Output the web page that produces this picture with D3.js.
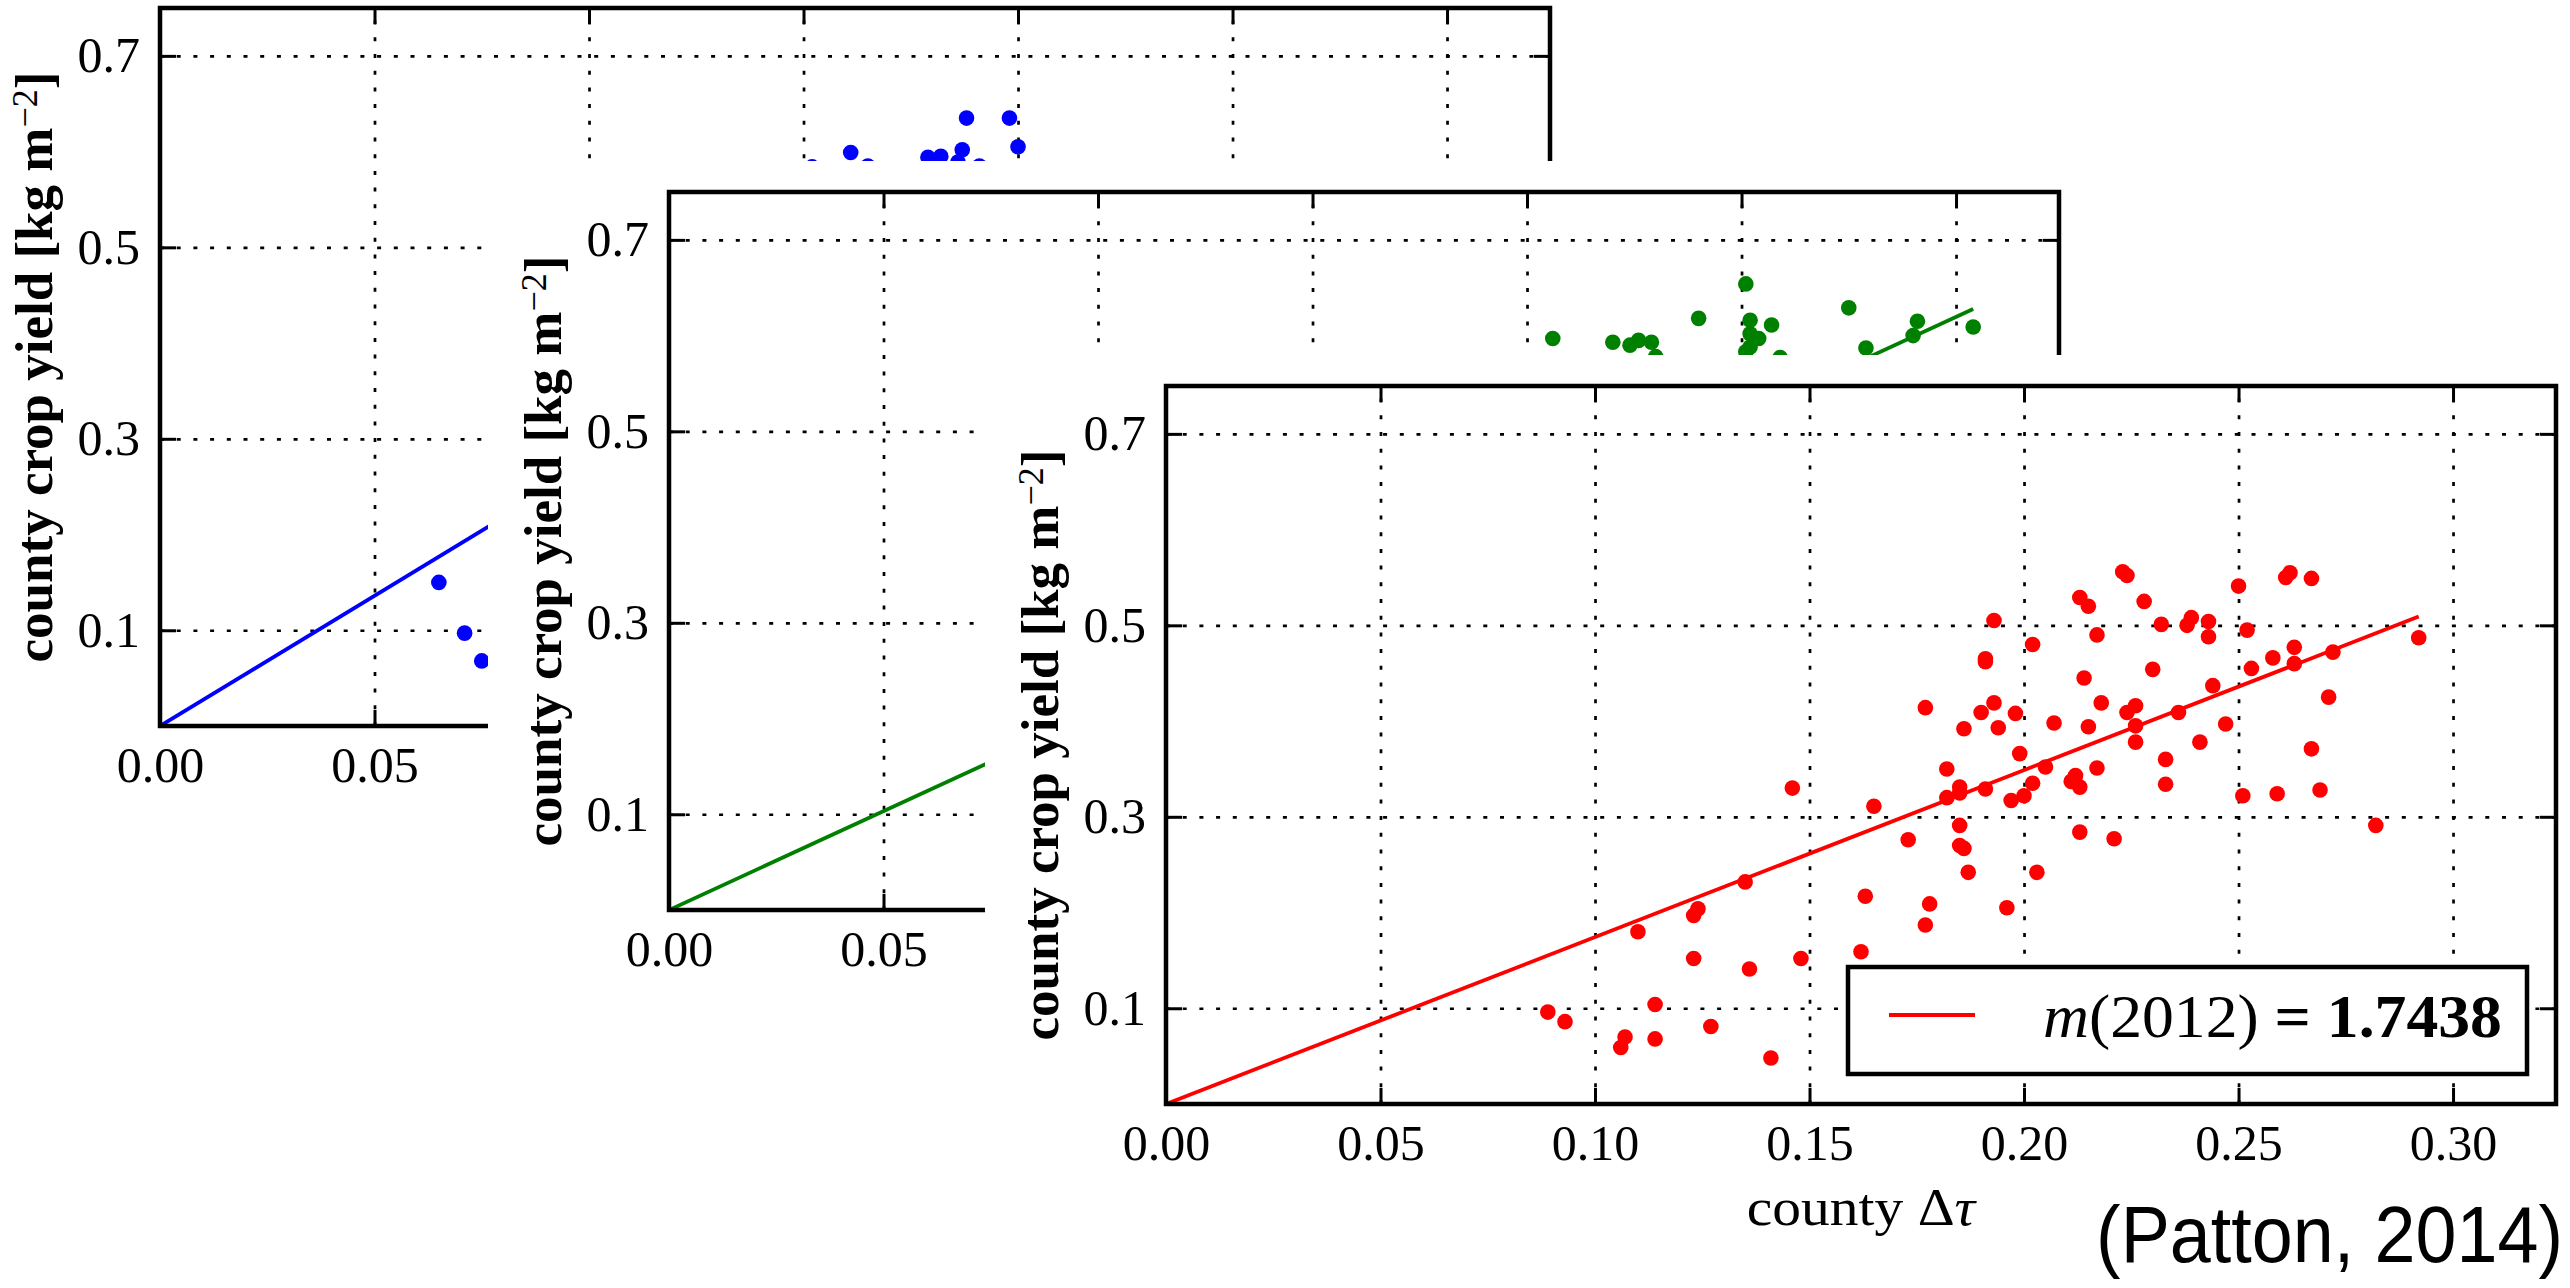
<!DOCTYPE html>
<html>
<head>
<meta charset="utf-8">
<script src="https://cdn.jsdelivr.net/npm/d3@7"></script>
<style>
  html, body { margin: 0; padding: 0; background: #fff; }
  svg { display: block; }
</style>
</head>
<body>
<svg id="chart" width="2570" height="1288"></svg>
<script>
// County crop yield against county Δτ: three seasons drawn as stacked,
// overlapping panels (blue at the back, green in the middle, red in front).

const xTicks = [0.00, 0.05, 0.10, 0.15, 0.20, 0.25, 0.30];
const yTicks = [0.1, 0.3, 0.5, 0.7];
const xDomain = [0, 0.324];
const yDomain = [0, 0.75];

// back panel (blue)
const blueX = [0.065, 0.071, 0.075, 0.152, 0.161, 0.165, 0.179, 0.182, 0.186, 0.187, 0.188, 0.191, 0.198, 0.200];
const blueY = [0.150, 0.097, 0.068, 0.584, 0.599, 0.585, 0.594, 0.595, 0.589, 0.602, 0.635, 0.585, 0.635, 0.605];

// middle panel (green)
const greenX = [0.188, 0.206, 0.220, 0.224, 0.226, 0.229, 0.230, 0.240, 0.251, 0.252, 0.257, 0.252, 0.254, 0.252, 0.251, 0.259, 0.275, 0.279, 0.291, 0.290, 0.304];
const greenY = [0.571, 0.597, 0.593, 0.590, 0.595, 0.593, 0.578, 0.618, 0.654, 0.616, 0.611, 0.602, 0.597, 0.588, 0.583, 0.577, 0.629, 0.587, 0.615, 0.600, 0.609];

// front panel (red, 2012)
const redX = [
  0.177, 0.186, 0.182, 0.185, 0.185, 0.182, 0.165, 0.146, 0.185, 0.173, 0.185, 0.186, 0.187, 0.135, 0.163, 0.124,
  0.123, 0.178, 0.177, 0.110, 0.123, 0.136, 0.148, 0.162, 0.089, 0.093, 0.114, 0.107, 0.106, 0.114, 0.127, 0.141,
  0.223, 0.224, 0.213, 0.215, 0.228, 0.193, 0.250, 0.261, 0.262, 0.267, 0.232, 0.238, 0.239, 0.243, 0.243, 0.252,
  0.217, 0.202, 0.191, 0.191, 0.214, 0.230, 0.263, 0.258, 0.253, 0.263, 0.272, 0.292, 0.244, 0.271, 0.190, 0.193,
  0.198, 0.194, 0.207, 0.215, 0.218, 0.224, 0.226, 0.226, 0.236, 0.247, 0.226, 0.241, 0.199, 0.205, 0.233, 0.217,
  0.202, 0.200, 0.197, 0.191, 0.212, 0.211, 0.213, 0.233, 0.267, 0.251, 0.259, 0.269, 0.282, 0.213, 0.221, 0.203,
  0.196
];
const redY = [
  0.414, 0.392, 0.350, 0.331, 0.325, 0.320, 0.311, 0.330, 0.291, 0.276, 0.270, 0.267, 0.242, 0.232, 0.217, 0.204,
  0.197, 0.209, 0.187, 0.180, 0.152, 0.141, 0.152, 0.159, 0.096, 0.086, 0.104, 0.070, 0.059, 0.068, 0.081, 0.048,
  0.556, 0.552, 0.529, 0.520, 0.525, 0.505, 0.541, 0.550, 0.555, 0.549, 0.501, 0.500, 0.508, 0.504, 0.488, 0.495,
  0.490, 0.480, 0.465, 0.462, 0.445, 0.454, 0.477, 0.466, 0.455, 0.460, 0.472, 0.487, 0.437, 0.425, 0.409, 0.419,
  0.408, 0.393, 0.398, 0.394, 0.419, 0.409, 0.416, 0.395, 0.409, 0.397, 0.378, 0.378, 0.366, 0.352, 0.360, 0.351,
  0.335, 0.322, 0.317, 0.329, 0.343, 0.337, 0.331, 0.334, 0.371, 0.322, 0.324, 0.328, 0.291, 0.284, 0.277, 0.242,
  0.205
];

const seriesColors = ["#0000ff", "#008000", "#ff0000"];
const seriesSlopes = [2.72, 2.065, 1.7438];
const legendYear = "2012";
const legendSlope = "1.7438";
const citation = "(Patton, 2014)";

const series = [
  { xs: blueX, ys: blueY },
  { xs: greenX, ys: greenY },
  { xs: redX, ys: redY }
];

// ---- layout ----
const W = 1390, H = 718;
const panels = [
  { left: 160, top: 8 },
  { left: 669, top: 192 },
  { left: 1166, top: 386 }
];
const serif = "'Liberation Serif', 'DejaVu Serif', serif";
const svg = d3.select("#chart");

// squeeze/stretch a text element placed at its own origin to a given width
function fitWidth(textSel, target) {
  const w = textSel.node().getBBox().width;
  if (w > 0) textSel.attr("transform", `scale(${target / w},1)`);
}

function drawPanel(p, i) {
  const s = series[i];
  const color = seriesColors[i];
  const x = d3.scaleLinear().domain(xDomain).range([0, W]);
  const y = d3.scaleLinear().domain(yDomain).range([H, 0]);

  const g = svg.append("g").attr("transform", `translate(${p.left},${p.top})`);

  // each later panel sits on its own white sheet
  if (i > 0) {
    g.append("rect")
      .attr("x", -181).attr("y", -31)
      .attr("width", 2570).attr("height", 1288)
      .attr("fill", "#fff");
  }

  const clipId = `plot-clip-${i}`;
  g.append("clipPath").attr("id", clipId)
    .append("rect").attr("width", W).attr("height", H);

  // dotted grid
  const gridStyle = sel => sel.selectAll(".tick line")
    .attr("stroke", "#000").attr("stroke-width", 2.7).attr("stroke-dasharray", "4,12.7");
  g.append("g").attr("transform", `translate(0,${H})`)
    .call(d3.axisBottom(x).tickValues(xTicks).tickSize(-H).tickFormat(""))
    .call(sel => sel.select(".domain").remove())
    .call(gridStyle);
  g.append("g")
    .call(d3.axisLeft(y).tickValues(yTicks).tickSize(-W).tickFormat(""))
    .call(sel => sel.select(".domain").remove())
    .call(gridStyle);

  // data
  const plot = g.append("g").attr("clip-path", `url(#${clipId})`);
  plot.selectAll("circle")
    .data(d3.range(s.xs.length))
    .join("circle")
    .attr("cx", k => x(s.xs[k]))
    .attr("cy", k => y(s.ys[k]))
    .attr("r", 7.8)
    .attr("fill", color);

  const xMax = d3.max(s.xs);
  const fit = [[0, 0], [xMax, seriesSlopes[i] * xMax]];
  plot.append("path")
    .attr("d", d3.line().x(d => x(d[0])).y(d => y(d[1]))(fit))
    .attr("fill", "none")
    .attr("stroke", color)
    .attr("stroke-width", 3.8);

  // ticks on all four sides, pointing inwards
  const tickStyle = sel => {
    sel.select(".domain").remove();
    sel.selectAll(".tick line").attr("stroke", "#000").attr("stroke-width", 3);
    sel.selectAll(".tick text")
      .attr("font-family", serif).attr("font-size", 50).attr("fill", "#000");
  };
  g.append("g").attr("transform", `translate(0,${H})`)
    .call(d3.axisBottom(x).tickValues(xTicks).tickSizeInner(-16).tickSizeOuter(0)
      .tickPadding(20).tickFormat(d3.format(".2f")))
    .call(tickStyle);
  g.append("g")
    .call(d3.axisTop(x).tickValues(xTicks).tickSizeInner(-16).tickSizeOuter(0).tickFormat(""))
    .call(tickStyle);
  g.append("g")
    .call(d3.axisLeft(y).tickValues(yTicks).tickSizeInner(-16).tickSizeOuter(0)
      .tickPadding(20).tickFormat(d3.format(".1f")))
    .call(tickStyle);
  g.append("g").attr("transform", `translate(${W},0)`)
    .call(d3.axisRight(y).tickValues(yTicks).tickSizeInner(-16).tickSizeOuter(0).tickFormat(""))
    .call(tickStyle);

  // frame
  g.append("rect").attr("width", W).attr("height", H)
    .attr("fill", "none").attr("stroke", "#000").attr("stroke-width", 4.5);

  // y label
  const yl = g.append("g").attr("transform", `translate(-108,${H / 2}) rotate(-90)`)
    .append("text")
    .attr("text-anchor", "middle")
    .attr("font-family", serif).attr("font-size", 53).attr("font-weight", "bold")
    .attr("fill", "#000");
  yl.append("tspan").text("county crop yield [kg m");
  yl.append("tspan").attr("dy", -15).attr("font-size", 36).attr("font-weight", "normal").text("\u22122");
  yl.append("tspan").attr("dy", 15).text("]");
  fitWidth(yl, 591);

  // x label
  const xl = g.append("g").attr("transform", `translate(${W / 2},${H + 121})`)
    .append("text")
    .attr("text-anchor", "middle")
    .attr("font-family", serif).attr("font-size", 52).attr("fill", "#000");
  xl.append("tspan").text("county \u0394");
  xl.append("tspan").attr("font-style", "italic").text("\u03c4");
  fitWidth(xl, 231);

  return { g, x, y };
}

const drawn = panels.map(drawPanel);

// legend of the front panel
{
  const { g } = drawn[2];
  const lw = 679, lh = 107;
  const lg = g.append("g").attr("transform", `translate(${W - 29 - lw},${H - 30 - lh})`);
  lg.append("rect").attr("width", lw).attr("height", lh)
    .attr("fill", "#fff").attr("stroke", "#000").attr("stroke-width", 4.5);
  lg.append("line")
    .attr("x1", 41).attr("x2", 127).attr("y1", 48).attr("y2", 48)
    .attr("stroke", seriesColors[2]).attr("stroke-width", 3.8);
  const lt = lg.append("g").attr("transform", "translate(195,70)")
    .append("text")
    .attr("font-family", serif).attr("font-size", 62).attr("fill", "#000");
  lt.append("tspan").attr("font-style", "italic").text("m");
  lt.append("tspan").text(`(${legendYear})`);
  lt.append("tspan").attr("font-weight", "bold").text(` = ${legendSlope}`);
  fitWidth(lt, 459);
}

// citation
{
  const ct = svg.append("g").attr("transform", "translate(2563,1262)")
    .append("text")
    .attr("text-anchor", "end")
    .attr("font-family", "'Liberation Sans', Arial, sans-serif")
    .attr("font-size", 80).attr("fill", "#000")
    .text(citation);
  fitWidth(ct, 467);
}
</script>
</body>
</html>
